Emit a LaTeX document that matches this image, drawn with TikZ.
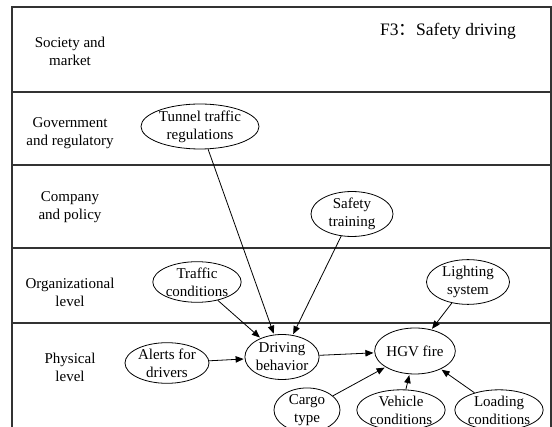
\documentclass[tikz,border=0pt]{standalone}
\usepackage{fontspec}
\setmainfont{Liberation Serif}
\newfontfamily\cjkfont{Noto Sans CJK SC}
\usetikzlibrary{shapes.geometric,arrows.meta}
\begin{document}
\begin{tikzpicture}[x=1pt,y=-1pt,
  frame/.style={draw=black!80,line width=1.1pt},
  level/.style={align=center,inner sep=0pt,font=\fontsize{15}{18}\selectfont},
  factor/.style={ellipse,draw,line width=0.8pt,inner sep=0pt,align=center,
                 font=\fontsize{15}{18}\selectfont},
  cause/.style={-{Triangle[length=8pt,width=6.5pt]},line width=0.8pt,shorten >=1pt}]
\useasboundingbox (0,0) rectangle (552,427);

% hierarchy bands
\draw[frame] (12,427) -- (12,7) -- (551,7) -- (551,427);
\foreach \yy in {92,165,248,323} \draw[frame] (12,\yy) -- (551,\yy);

% level labels
\node[level] (soc) at (70,51)  {Society and\\market};
\node[level] (gov) at (70,133) {Government\\and regulatory};
\node[level] (com) at (70,207) {Company\\and policy};
\node[level] (org) at (70,292) {Organizational\\level};
\node[level] (phy) at (70,367) {Physical\\level};

\node[anchor=west,inner sep=0pt,font=\fontsize{17.5}{20}\selectfont] (title)
  at (380,31) {F3{\cjkfont ：}Safety driving};

% factors
\node[factor,minimum width=118pt,minimum height=40pt] (tunnel) at (200,126.5) {Tunnel traffic\\regulations};
\node[factor,minimum width=82pt,minimum height=42pt] (training) at (352,214) {Safety\\training};
\node[factor,minimum width=83pt,minimum height=38pt] (traffic) at (197,282) {Traffic\\conditions};
\node[factor,minimum width=83pt,minimum height=38pt] (light) at (468,282) {Lighting\\system};
\node[factor,minimum width=84pt,minimum height=37pt] (alerts) at (167,363) {Alerts for\\drivers};
\node[factor,minimum width=74pt,minimum height=45pt] (drive) at (282,357) {Driving\\behavior};
\node[factor,minimum width=76pt,minimum height=46pt] (fire) at (415,351) {HGV fire};
\node[factor,minimum width=66pt,minimum height=40pt] (cargo) at (307,410) {Cargo\\type};
\node[factor,minimum width=78pt,minimum height=40pt] (vehicle) at (401,410) {Vehicle\\conditions};
\node[factor,minimum width=82pt,minimum height=40pt] (loading) at (499,410) {Loading\\conditions};

% causal links
\draw[cause] (tunnel) -- (drive);
\draw[cause] (training) -- (drive);
\draw[cause] (traffic) -- (drive);
\draw[cause] (alerts) -- (drive);
\draw[cause] (drive) -- (fire);
\draw[cause] (light) -- (fire);
\draw[cause] (cargo) -- (fire);
\draw[cause] (vehicle) -- (fire);
\draw[cause] (loading) -- (fire);
\end{tikzpicture}
\end{document}
